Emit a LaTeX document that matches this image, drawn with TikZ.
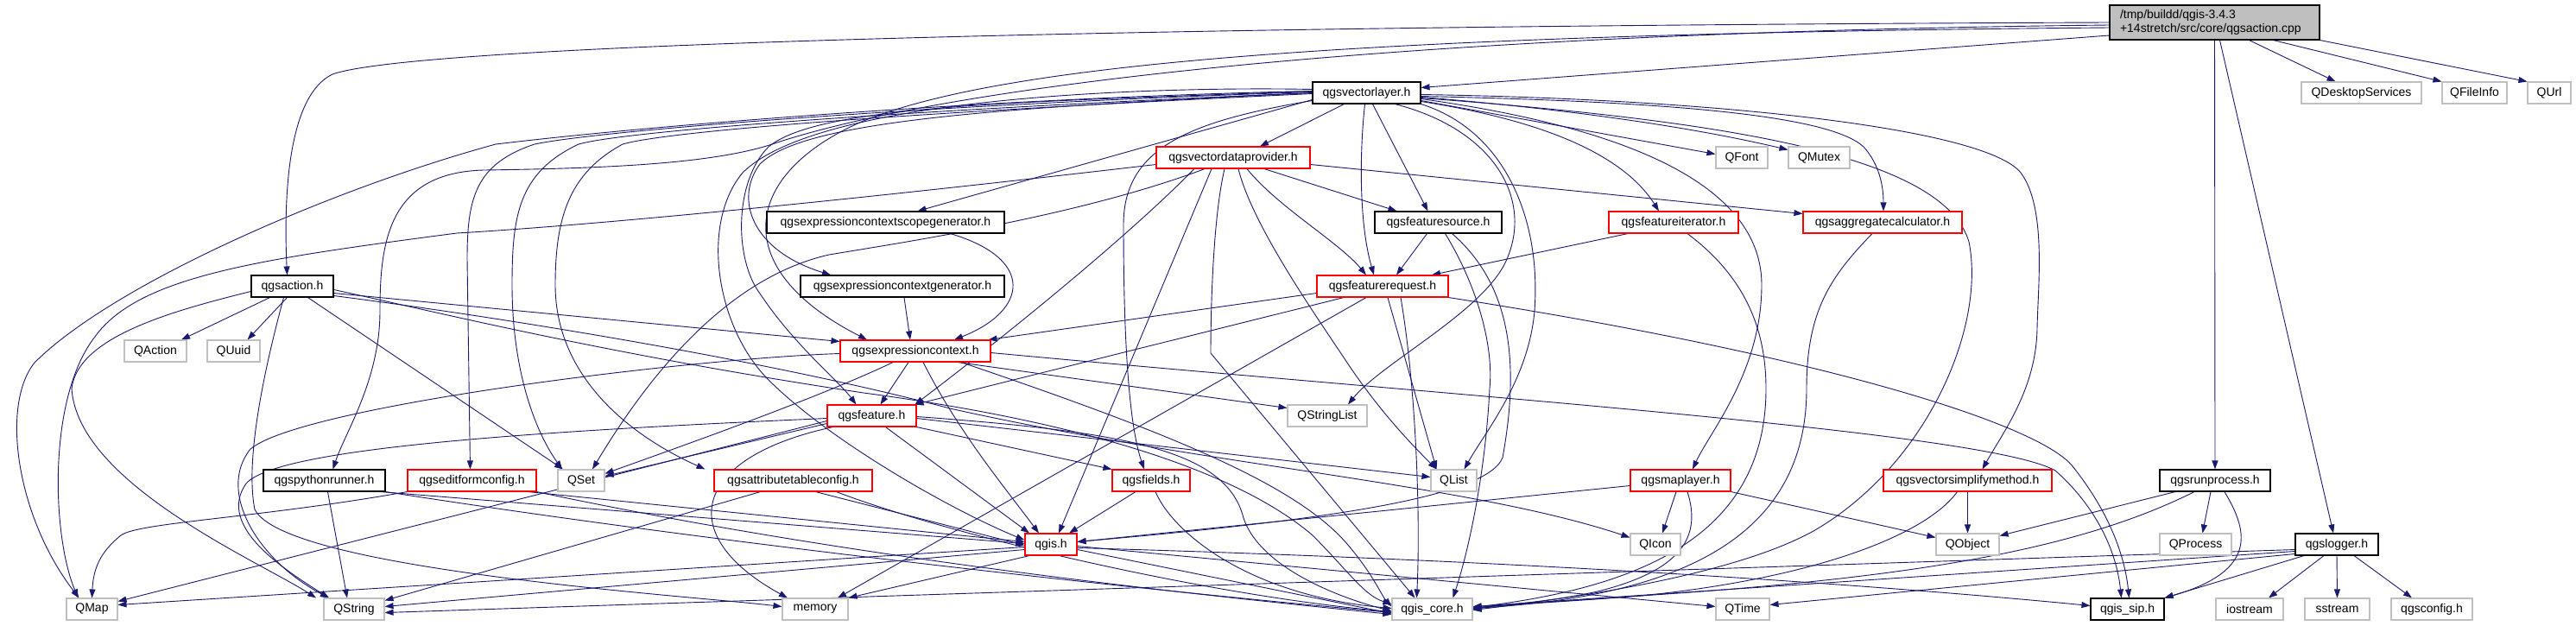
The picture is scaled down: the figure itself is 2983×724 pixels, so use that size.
\documentclass[tikz,border=0pt]{standalone}
\usepackage{fontspec}
\setmainfont{Liberation Sans}
\usetikzlibrary{arrows.meta}
\definecolor{edgec}{HTML}{191970}
\definecolor{greyc}{HTML}{BFBFBF}
\newcommand{\dxfont}{\fontsize{14}{15.5}\selectfont}
\pgfdeclarelayer{bg}
\pgfsetlayers{bg,main}
\tikzset{
 box/.style={draw, line width=1.1pt, minimum height=25pt, inner sep=0pt, font=\dxfont, fill=white},
 bk/.style={box, draw=black},
 rd/.style={box, draw=red},
 gy/.style={box, draw=greyc},
 root/.style={draw=black, line width=1.1pt, fill=greyc, minimum height=40pt, text width=219pt, align=left, inner xsep=12pt, inner ysep=0pt, font=\dxfont},
 ed/.style={draw=edgec, line width=0.9pt, -{Triangle[length=10pt,width=7pt]}},
}
\begin{document}
\begin{tikzpicture}[x=1pt,y=-1pt]
\path[use as bounding box] (0,0) rectangle (2983,724);
% nodes
\node[root] (cpp) at (2564.5,26) {/tmp/buildd/qgis-3.4.3\\+14stretch/src/core/qgsaction.cpp};
\node[bk, minimum width=125pt] (vl) at (1582.5,107.5) {qgsvectorlayer.h};
\node[gy, minimum width=139pt] (qds) at (2734.5,107.5) {QDesktopServices};
\node[gy, minimum width=75pt] (qfi) at (2865.5,107.5) {QFileInfo};
\node[gy, minimum width=50pt] (qurl) at (2952,107.5) {QUrl};
\node[rd, minimum width=178pt] (vdp) at (1428,182.5) {qgsvectordataprovider.h};
\node[gy, minimum width=60pt] (qfont) at (2017,182.5) {QFont};
\node[gy, minimum width=71pt] (qmutex) at (2106.5,182.5) {QMutex};
\node[bk, minimum width=275pt] (ecsg) at (1025.5,257.5) {qgsexpressioncontextscopegenerator.h};
\node[bk, minimum width=147pt] (fs) at (1665.5,257.5) {qgsfeaturesource.h};
\node[rd, minimum width=150pt] (fi) at (1938,257.5) {qgsfeatureiterator.h};
\node[rd, minimum width=184pt] (agg) at (2180,257.5) {qgsaggregatecalculator.h};
\node[bk, minimum width=95pt] (act) at (338.5,331.5) {qgsaction.h};
\node[bk, minimum width=236pt] (ecg) at (1045,331.5) {qgsexpressioncontextgenerator.h};
\node[rd, minimum width=152pt] (fr) at (1601,331.5) {qgsfeaturerequest.h};
\node[gy, minimum width=72pt] (qaction) at (180,406.5) {QAction};
\node[gy, minimum width=61pt] (quuid) at (270.5,406.5) {QUuid};
\node[rd, minimum width=174pt] (ec) at (1060,406.5) {qgsexpressioncontext.h};
\node[rd, minimum width=103pt] (feat) at (1009.5,481.5) {qgsfeature.h};
\node[gy, minimum width=92pt] (qsl) at (1537,481.5) {QStringList};
\node[bk, minimum width=141pt] (pyr) at (375.5,556.5) {qgspythonrunner.h};
\node[rd, minimum width=149pt] (efc) at (546.5,556.5) {qgseditformconfig.h};
\node[gy, minimum width=54pt] (qset) at (673,556.5) {QSet};
\node[rd, minimum width=183pt] (atc) at (918.5,556.5) {qgsattributetableconfig.h};
\node[rd, minimum width=90pt] (fields) at (1333,556.5) {qgsfields.h};
\node[gy, minimum width=53pt] (qlist) at (1683.5,556.5) {QList};
\node[rd, minimum width=116pt] (ml) at (1946,556.5) {qgsmaplayer.h};
\node[rd, minimum width=195pt] (vsm) at (2278.5,556.5) {qgsvectorsimplifymethod.h};
\node[bk, minimum width=128pt] (rp) at (2565,556.5) {qgsrunprocess.h};
\node[rd, minimum width=60pt] (qgis) at (1217,630.5) {qgis.h};
\node[gy, minimum width=58pt] (qicon) at (1917,630.5) {QIcon};
\node[gy, minimum width=73pt] (qobject) at (2278.5,630.5) {QObject};
\node[gy, minimum width=83pt] (qprocess) at (2542.5,630.5) {QProcess};
\node[bk, minimum width=96pt] (log) at (2706,630.5) {qgslogger.h};
\node[gy, minimum width=59pt] (qmap) at (106.5,705.5) {QMap};
\node[gy, minimum width=70pt] (qstring) at (410,705.5) {QString};
\node[gy, minimum width=76pt] (memory) at (944,705.5) {memory};
\node[gy, minimum width=93pt] (core) at (1658.5,705.5) {qgis\_core.h};
\node[gy, minimum width=62pt] (qtime) at (2018,705.5) {QTime};
\node[bk, minimum width=85pt] (sip) at (2463.5,705.5) {qgis\_sip.h};
\node[gy, minimum width=78pt] (iostream) at (2605,705.5) {iostream};
\node[gy, minimum width=75pt] (sstream) at (2706.5,705.5) {sstream};
\node[gy, minimum width=94pt] (qgsconfig) at (2816,705.5) {qgsconfig.h};
\begin{pgfonlayer}{bg}
\fill[white] (0,0) rectangle (2983,724);
% cpp
\draw[ed] (cpp.west) .. controls (1300,30) and (480,52) .. (385,86) .. controls (335,110) and (328,220) .. ([xshift=-6pt]act.north);
\draw[ed] ([yshift=-15pt]cpp.west) -- ([yshift=6pt]vl.east);
\draw[ed] ([yshift=-6pt]cpp.west) .. controls (1500,40) and (1150,80) .. (1000,140) .. controls (860,200) and (840,310) .. ([xshift=-56pt]ec.north);
\draw[ed] ([yshift=-3pt]cpp.west) .. controls (1600,38) and (1100,100) .. (900,165) .. controls (830,190) and (700,195) .. (560,197) .. controls (450,200) and (440,280) .. (440,360) .. controls (440,440) and (400,500) .. ([xshift=10pt]pyr.north);
\draw[ed] ([xshift=40pt]cpp.south) -- ([xshift=-30pt]qds.north);
\draw[ed] ([xshift=68pt]cpp.south) -- (qfi.north west);
\draw[ed] (cpp.south east) -- (qurl.north west);
\draw[ed] (cpp.south) -- (rp.north);
\draw[ed] ([xshift=6pt]cpp.south) -- ([xshift=-4pt]log.north);
% vl
\draw[ed] ([xshift=-26pt]vl.south) -- ([xshift=31pt]vdp.north);
\draw[ed] ([xshift=-2pt]vl.south) .. controls (1574,180) and (1574,260) .. ([xshift=-10pt]fr.north);
\draw[ed] ([xshift=7pt]vl.south) -- ([xshift=-12pt]fs.north);
\draw[ed] ([xshift=33pt]vl.south) .. controls (1730,150) and (1775,230) .. (1745,300) .. controls (1720,360) and (1600,420) .. ([xshift=24pt]qsl.north);
\draw[ed] (vl.south east) .. controls (1740,150) and (1785,250) .. (1777,360) .. controls (1770,440) and (1720,500) .. ([xshift=12pt]qlist.north);
\draw[ed] ([yshift=-9pt]vl.west) .. controls (1380,140) and (1301,170) .. (1301,260) .. controls (1301,420) and (1310,500) .. ([xshift=-8pt]fields.north);
\draw[ed] ([yshift=2pt]vl.west) .. controls (1200,118) and (950,120) .. (890,170) .. controls (850,210) and (850,300) .. (880,340) .. controls (920,400) and (970,440) .. ([xshift=-18pt]feat.north);
\draw[ed] (vl.west) .. controls (1150,125) and (930,140) .. (880,190) .. controls (850,230) and (870,290) .. ([xshift=-83pt]ecg.north);
\draw[ed] ([yshift=-8pt]vl.west) -- ([xshift=37pt]ecsg.north);
\draw[ed] ([yshift=4pt]vl.west) .. controls (1350,100) and (950,110) .. (860,200) .. controls (810,260) and (830,380) .. (890,440) .. controls (960,510) and (1100,590) .. ([yshift=5pt]qgis.west);
\draw[ed] ([yshift=2pt]vl.west) .. controls (1200,112) and (800,140) .. (574,167) .. controls (380,220) and (130,330) .. (40,420) .. controls (0,470) and (20,600) .. ([xshift=-15pt]qmap.north);
\draw[ed] ([yshift=1pt]vl.west) .. controls (1100,120) and (700,150) .. (619,167) .. controls (550,190) and (541,230) .. (541,300) -- ([xshift=-2pt]efc.north);
\draw[ed] (vl.west) .. controls (1100,125) and (730,150) .. (670,167) .. controls (600,200) and (593,250) .. (593,330) .. controls (593,430) and (620,500) .. ([xshift=-22pt]qset.north);
\draw[ed] ([yshift=-1pt]vl.west) .. controls (1100,128) and (780,150) .. (721,167) .. controls (660,200) and (643,250) .. (643,330) .. controls (643,430) and (720,500) .. ([xshift=-102pt]atc.north);
\draw[ed] ([yshift=-9pt]vl.east) -- ([yshift=4pt]qfont.west);
\draw[ed] ([yshift=-5pt]vl.east) .. controls (1800,125) and (1950,145) .. ([yshift=9pt]qmutex.west);
\draw[ed] ([yshift=-10pt]vl.east) .. controls (1790,140) and (1880,180) .. ([xshift=-17pt]fi.north);
\draw[ed] ([yshift=-4pt]vl.east) .. controls (1950,118) and (2120,135) .. (2158,170) .. controls (2176,190) and (2181,215) .. ([xshift=1pt]agg.north);
\draw[ed] ([yshift=-7pt]vl.east) .. controls (1900,150) and (2040,220) .. (2040,330) .. controls (2040,430) and (1980,500) .. ([xshift=14pt]ml.north);
\draw[ed] ([yshift=-2pt]vl.east) .. controls (2000,115) and (2300,150) .. (2340,200) .. controls (2370,240) and (2360,330) .. (2359,380) .. controls (2358,450) and (2320,500) .. ([xshift=17pt]vsm.north);
\draw[ed] ([yshift=-6pt]vl.east) .. controls (2000,140) and (2250,180) .. (2280,280) .. controls (2300,380) and (2230,540) .. (2100,615) .. controls (2000,670) and (1800,695) .. ([yshift=-1pt]core.east);
% vdp
\draw[ed] ([xshift=36pt]vdp.south) -- ([xshift=-48pt]fs.north);
\draw[ed] ([xshift=16pt]vdp.south) .. controls (1480,240) and (1550,280) .. ([xshift=-19pt]fr.north);
\draw[ed] ([xshift=-45pt]vdp.south) .. controls (1300,280) and (1150,400) .. ([xshift=50pt]feat.north);
\draw[ed] ([xshift=-25pt]vdp.south) -- ([xshift=9pt]qgis.north);
\draw[ed] ([xshift=-10pt]vdp.south) .. controls (1403,260) and (1402,380) .. (1402,409) -- ([xshift=-20pt]core.north);
\draw[ed] ([xshift=6pt]vdp.south) .. controls (1450,260) and (1520,360) .. (1560,420) .. controls (1600,480) and (1640,520) .. ([xshift=-20pt]qlist.north);
\draw[ed] ([xshift=-33pt]vdp.south) .. controls (1250,250) and (1050,280) .. (960,295) .. controls (850,320) and (760,420) .. ([xshift=13pt]qset.north);
\draw[ed] ([yshift=-8pt]vdp.west) .. controls (1000,230) and (700,260) .. (529,270) .. controls (300,300) and (160,320) .. (110,390) .. controls (55,460) and (60,620) .. ([xshift=-16pt]qmap.north);
\draw[ed] ([yshift=-8pt]vdp.east) -- ([yshift=10pt]agg.west);
% generators
\draw[ed] ([xshift=75pt]ecsg.south) .. controls (1200,300) and (1190,360) .. ([xshift=45pt]ec.north);
\draw[ed] ([xshift=2pt]ecg.south) -- ([xshift=-6pt]ec.north);
% fs
\draw[ed] ([xshift=-13pt]fs.south) -- ([xshift=16pt]fr.north);
\draw[ed] ([xshift=8pt]fs.south) .. controls (1710,330) and (1730,400) .. (1725,450) .. controls (1720,550) and (1700,640) .. ([xshift=24pt]core.north);
\draw[ed] ([xshift=16pt]fs.south) .. controls (1750,330) and (1760,420) .. (1740,530) .. controls (1720,580) and (1500,605) .. ([yshift=3pt]qgis.east);
% fi, agg
\draw[ed] ([xshift=-53pt]fi.south) -- ([xshift=57pt]fr.north);
\draw[ed] ([xshift=16pt]fi.south) .. controls (2020,320) and (2045,380) .. (2045,450) .. controls (2045,620) and (1900,680) .. ([yshift=2pt]core.east);
\draw[ed] ([xshift=-12pt]agg.south) .. controls (2120,320) and (2092,360) .. (2092,450) .. controls (2092,620) and (1950,690) .. ([yshift=1pt]core.east);
% act
\draw[ed] ([xshift=-26pt]act.south) -- ([xshift=30pt]qaction.north);
\draw[ed] ([xshift=-6pt]act.south) -- ([xshift=16pt]quuid.north);
\draw[ed] ([yshift=-6pt]act.west) .. controls (200,360) and (90,390) .. (83,450) .. controls (90,560) and (300,650) .. ([xshift=-44pt]qstring.north);
\draw[ed] ([xshift=-10pt]act.south) .. controls (300,450) and (285,540) .. (295,590) .. controls (330,660) and (800,690) .. ([yshift=3pt]memory.west);
\draw[ed] ([xshift=18pt]act.south) -- ([xshift=-21pt]qset.north);
\draw[ed] ([yshift=-8pt]act.east) -- ([yshift=11pt]ec.west);
\draw[ed] ([yshift=-11pt]act.east) .. controls (600,370) and (900,420) .. (1100,473) .. controls (1400,540) and (1700,560) .. ([yshift=8pt]qicon.west);
\draw[ed] ([yshift=-4pt]act.east) .. controls (500,360) and (700,410) .. (1000,455) .. controls (1300,495) and (1450,560) .. (1520,620) .. controls (1560,660) and (1580,690) .. ([yshift=6pt]core.west);
% fr
\draw[ed] ([yshift=-8pt]fr.west) -- ([xshift=-3pt]ec.north east);
\draw[ed] ([xshift=-45pt]fr.south) -- ([xshift=50pt]feat.north);
\draw[ed] ([xshift=-19pt]fr.south) -- ([xshift=26pt]memory.north);
\draw[ed] ([xshift=6pt]fr.south) -- ([xshift=-20pt]qlist.north);
\draw[ed] ([xshift=21pt]fr.south) .. controls (1640,450) and (1645,600) .. ([xshift=-18pt]core.north);
\draw[ed] (fr.south east) .. controls (2100,410) and (2360,490) .. (2400,540) .. controls (2440,590) and (2460,640) .. ([xshift=2pt]sip.north);
% ec
\draw[ed] ([xshift=-8pt]ec.south) -- ([xshift=10pt]feat.north);
\draw[ed] ([yshift=-3pt]ec.west) .. controls (800,415) and (350,470) .. (290,520) .. controls (250,570) and (300,650) .. ([xshift=-29pt]qstring.north);
\draw[ed] ([xshift=-26pt]ec.south) .. controls (950,460) and (780,520) .. ([yshift=8pt]qset.east);
\draw[ed] ([xshift=49pt]ec.south) -- ([yshift=9pt]qsl.west);
\draw[ed] ([xshift=9pt]ec.south) .. controls (1110,500) and (1160,560) .. ([xshift=-14pt]qgis.north);
\draw[ed] ([xshift=53pt]ec.south) .. controls (1350,500) and (1500,560) .. (1560,630) .. controls (1590,665) and (1600,690) .. ([yshift=3pt]core.west);
\draw[ed] ([yshift=-2pt]ec.east) .. controls (1700,460) and (2300,500) .. (2380,545) .. controls (2420,580) and (2450,630) .. ([xshift=-7pt]sip.north);
% feat
\draw[ed] ([yshift=-6pt]feat.west) -- ([yshift=9pt]qmap.east);
\draw[ed] ([yshift=-3pt]feat.west) .. controls (600,500) and (320,520) .. (285,560) .. controls (250,610) and (330,660) .. ([xshift=-29pt]qstring.north);
\draw[ed] ([yshift=-9pt]feat.west) -- ([yshift=5pt]qset.east);
\draw[ed] ([yshift=-3pt]feat.east) -- ([yshift=4pt]qlist.west);
\draw[ed] ([xshift=-45pt]feat.south) .. controls (800,530) and (780,620) .. ([xshift=-32pt]memory.north);
\draw[ed] (feat.south east) -- (fields.north west);
\draw[ed] ([xshift=16pt]feat.south) -- ([xshift=-25pt]qgis.north);
\draw[ed] ([yshift=-1pt]feat.east) .. controls (1300,500) and (1420,520) .. (1440,600) .. controls (1460,660) and (1560,695) .. ([yshift=-2pt]core.west);
% pyr
\draw[ed] ([xshift=4pt]pyr.south) -- ([xshift=-8pt]qstring.north);
\draw[ed] ([xshift=-6pt]pyr.south east) -- ([yshift=1pt]qgis.west);
\draw[ed] (pyr.south east) .. controls (900,640) and (1400,690) .. ([yshift=-4pt]core.west);
% efc
\draw[ed] (efc.south west) .. controls (300,600) and (160,605) .. (140,620) .. controls (115,640) and (108,660) .. (qmap.north);
\draw[ed] ([xshift=-10pt]efc.south east) -- ([yshift=3pt]qgis.west);
\draw[ed] (efc.south east) .. controls (1000,650) and (1400,690) .. ([yshift=-6pt]core.west);
% atc
\draw[ed] ([xshift=-38pt]atc.south) -- ([yshift=10pt]qstring.east);
\draw[ed] ([xshift=26pt]atc.south) -- ([yshift=-1pt]qgis.west);
\draw[ed] ([xshift=50pt]atc.south) .. controls (1100,620) and (1400,690) .. ([yshift=-3pt]core.west);
% fields
\draw[ed] ([xshift=-18pt]fields.south) -- ([xshift=21pt]qgis.north);
\draw[ed] ([xshift=5pt]fields.south) .. controls (1360,620) and (1450,690) .. ([yshift=1pt]core.west);
% ml
\draw[ed] ([yshift=-6pt]ml.west) -- ([yshift=3pt]qgis.east);
\draw[ed] ([xshift=-5pt]ml.south) -- ([xshift=8pt]qicon.north);
\draw[ed] (ml.south east) -- ([yshift=8pt]qobject.west);
\draw[ed] ([xshift=8pt]ml.south) .. controls (1970,620) and (1950,660) .. (1850,685) .. controls (1780,700) and (1730,700) .. ([yshift=-1pt]core.east);
% vsm
\draw[ed] (vsm.south) -- (qobject.north);
\draw[ed] ([xshift=-12pt]vsm.south) .. controls (2230,620) and (2100,670) .. (1900,690) .. controls (1800,698) and (1740,700) .. (core.east);
% rp
\draw[ed] ([xshift=-46pt]rp.south) -- ([yshift=10pt]qobject.east);
\draw[ed] ([xshift=-5pt]rp.south) -- ([xshift=8pt]qprocess.north);
\draw[ed] ([xshift=-24pt]rp.south) .. controls (2400,640) and (2200,670) .. (1900,690) .. controls (1800,697) and (1740,700) .. ([yshift=1pt]core.east);
\draw[ed] ([xshift=11pt]rp.south) .. controls (2600,610) and (2620,660) .. (sip.north east);
% qgis
\draw[ed] ([yshift=-3pt]qgis.west) -- ([yshift=5pt]qmap.east);
\draw[ed] ([yshift=-6pt]qgis.west) -- ([yshift=3pt]qstring.east);
\draw[ed] ([xshift=-25pt]qgis.south) -- (memory.north east);
\draw[ed] ([yshift=-6pt]qgis.east) -- ([yshift=-5pt]core.west);
\draw[ed] ([yshift=-2pt]qgis.east) -- ([yshift=3pt]qtime.west);
\draw[ed] ([yshift=-4pt]qgis.east) .. controls (1800,650) and (2200,680) .. ([yshift=4pt]sip.west);
% log
\draw[ed] ([yshift=-6pt]log.west) -- ([yshift=-4pt]qstring.east);
\draw[ed] ([yshift=-8pt]log.west) -- ([yshift=3pt]core.east);
\draw[ed] ([yshift=-11pt]log.west) -- ([yshift=5pt]qtime.east);
\draw[ed] ([xshift=-38pt]log.south) -- (sip.north east);
\draw[ed] ([xshift=-15pt]log.south) -- ([xshift=22pt]iostream.north);
\draw[ed] (log.south) -- (sstream.north);
\draw[ed] ([xshift=20pt]log.south) -- ([xshift=-23pt]qgsconfig.north);
\end{pgfonlayer}
\end{tikzpicture}
\end{document}
